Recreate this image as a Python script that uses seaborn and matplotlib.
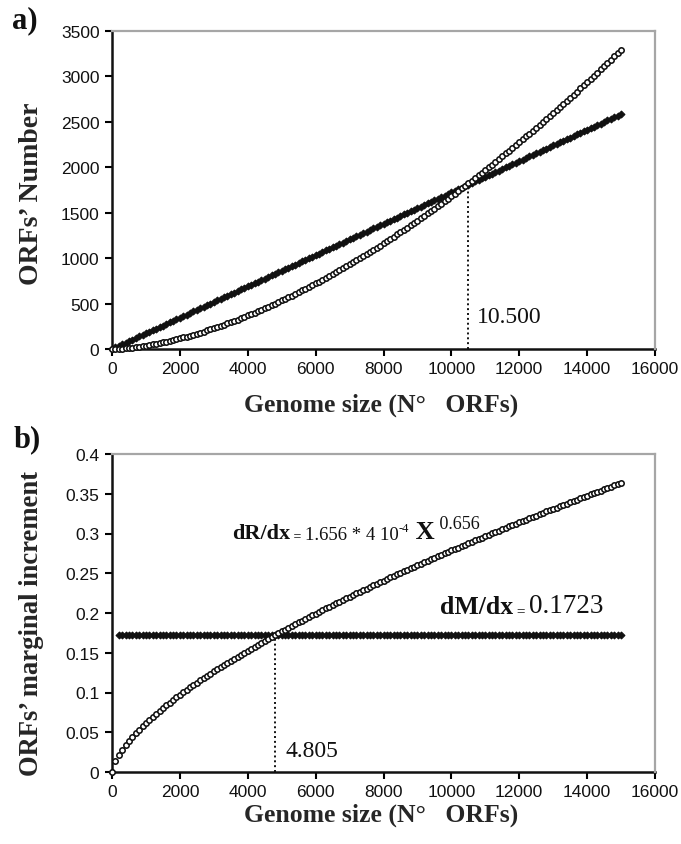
import numpy as np
import pandas as pd
import matplotlib
matplotlib.use("Agg")
import matplotlib.pyplot as plt
from matplotlib.ticker import FuncFormatter
import seaborn as sns

# ---------------- data ----------------
GENOME_SIZE = list(range(0, 15001, 100))

ORFS_R = [0, 1, 3, 5, 8, 12, 16, 21, 26, 31,
          37, 44, 50, 57, 65, 73, 81, 89, 98, 108,
          117, 127, 137, 148, 158, 169, 181, 192, 204, 217,
          229, 242, 255, 268, 282, 296, 310, 324, 339, 354,
          369, 384, 400, 416, 432, 449, 465, 482, 499, 516,
          534, 552, 570, 588, 607, 625, 644, 663, 683, 702,
          722, 742, 763, 783, 804, 825, 846, 867, 889, 910,
          932, 954, 977, 999, 1022, 1045, 1068, 1092, 1115, 1139,
          1163, 1187, 1212, 1236, 1261, 1286, 1311, 1336, 1362, 1388,
          1414, 1440, 1466, 1492, 1519, 1546, 1573, 1600, 1627, 1655,
          1683, 1711, 1739, 1767, 1796, 1825, 1853, 1882, 1912, 1941,
          1971, 2000, 2030, 2061, 2091, 2121, 2152, 2182, 2214, 2245,
          2276, 2307, 2339, 2371, 2403, 2435, 2467, 2500, 2533, 2566,
          2598, 2632, 2665, 2698, 2733, 2766, 2800, 2834, 2869, 2903,
          2938, 2972, 3008, 3043, 3078, 3114, 3149, 3185, 3221, 3257, 3293]

ORFS_M = [0, 17, 34, 52, 69, 86, 103, 121, 138, 155,
          172, 190, 207, 224, 241, 258, 276, 293, 310, 327,
          345, 362, 379, 396, 414, 431, 448, 465, 482, 500,
          517, 534, 551, 569, 586, 603, 620, 638, 655, 672,
          689, 706, 724, 741, 758, 775, 793, 810, 827, 844,
          862, 879, 896, 913, 930, 948, 965, 982, 999, 1017,
          1034, 1051, 1068, 1086, 1103, 1120, 1137, 1154, 1172, 1189,
          1206, 1223, 1241, 1258, 1275, 1292, 1310, 1327, 1344, 1361,
          1378, 1396, 1413, 1430, 1447, 1465, 1482, 1499, 1516, 1534,
          1551, 1568, 1585, 1602, 1620, 1637, 1654, 1671, 1689, 1706,
          1723, 1740, 1757, 1775, 1792, 1809, 1826, 1844, 1861, 1878,
          1895, 1912, 1930, 1947, 1964, 1981, 1999, 2016, 2033, 2050,
          2068, 2085, 2102, 2119, 2137, 2154, 2171, 2188, 2205, 2223,
          2240, 2257, 2274, 2292, 2309, 2326, 2343, 2361, 2378, 2395,
          2412, 2429, 2447, 2464, 2481, 2498, 2516, 2533, 2550, 2567, 2585]

DRDX = [0.0, .0136, .0214, .0279, .0337, .0391, .0440, .0487, .0532, .0574,
        .0615, .0655, .0694, .0731, .0767, .0803, .0838, .0872, .0905, .0938,
        .0970, .1001, .1032, .1063, .1093, .1122, .1152, .1181, .1209, .1237,
        .1265, .1293, .1320, .1347, .1373, .1400, .1426, .1452, .1477, .1503,
        .1528, .1553, .1578, .1602, .1626, .1651, .1675, .1698, .1722, .1745,
        .1769, .1792, .1815, .1838, .1860, .1883, .1905, .1927, .1950, .1972,
        .1993, .2015, .2037, .2058, .2080, .2101, .2122, .2143, .2164, .2185,
        .2205, .2226, .2247, .2267, .2287, .2308, .2328, .2348, .2368, .2388,
        .2407, .2427, .2447, .2466, .2486, .2505, .2524, .2544, .2563, .2582,
        .2601, .2620, .2639, .2657, .2676, .2695, .2713, .2732, .2750, .2769,
        .2787, .2805, .2823, .2841, .2860, .2878, .2895, .2913, .2931, .2949,
        .2967, .2984, .3002, .3020, .3037, .3054, .3072, .3089, .3107, .3124,
        .3141, .3158, .3175, .3192, .3209, .3226, .3243, .3260, .3277, .3294,
        .3310, .3327, .3344, .3360, .3377, .3393, .3410, .3426, .3443, .3459,
        .3475, .3491, .3508, .3524, .3540, .3556, .3572, .3588, .3604, .3620, .3636]

DMDX_X = [0] + list(range(200, 15001, 100))
DMDX = [0.0] + [0.1723] * 149

CROSS_A = (10500, 1835)
CROSS_B = (4805, 0.1723)

XTICKS = list(range(0, 16001, 2000))
YTICKS_A = list(range(0, 3501, 500))
YTICKS_B = [0, 0.05, 0.1, 0.15, 0.2, 0.25, 0.3, 0.35, 0.4]

# ---------------- style ----------------
sns.set_style("ticks")
plt.rcParams['font.family'] = ['Liberation Sans', 'DejaVu Sans']
SERIF = ['Liberation Serif', 'DejaVu Serif']
INK = '#111111'

W, H = 681, 845
fig = plt.figure(figsize=(W / 100, H / 100), dpi=100)
fig.patch.set_facecolor('white')

def px_axes(left, top, right, bottom):
    return fig.add_axes([left / W, 1 - bottom / H, (right - left) / W, (bottom - top) / H])

ax1 = px_axes(112, 32, 655, 350)
ax2 = px_axes(112, 455, 655, 773)

dfa_r = pd.DataFrame({'x': GENOME_SIZE, 'y': ORFS_R})
dfa_m = pd.DataFrame({'x': GENOME_SIZE, 'y': ORFS_M})
dfb_r = pd.DataFrame({'x': GENOME_SIZE, 'y': DRDX})
dfb_m = pd.DataFrame({'x': DMDX_X, 'y': DMDX})

for ax, dm, dr in ((ax1, dfa_m, dfa_r), (ax2, dfb_m, dfb_r)):
    sns.scatterplot(data=dm, x='x', y='y', marker='D', s=12, color=INK,
                    edgecolor=INK, linewidth=0.8, ax=ax, zorder=3)
    sns.scatterplot(data=dr, x='x', y='y', marker='o', s=15, color='white',
                    edgecolor=INK, linewidth=1.15, ax=ax, zorder=4)
    for c in ax.collections:
        c.set_clip_on(False)

ax1.set_xlim(0, 16000)
ax1.set_ylim(0, 3500)
ax2.set_xlim(0, 16000)
ax2.set_ylim(0, 0.4)

for ax, yt in ((ax1, YTICKS_A), (ax2, YTICKS_B)):
    ax.set_xticks(XTICKS)
    ax.set_yticks(yt)
    ax.yaxis.set_major_formatter(FuncFormatter(lambda v, p: f"{v:g}"))
    ax.xaxis.set_major_formatter(FuncFormatter(lambda v, p: f"{v:g}"))
    ax.tick_params(direction='out', length=5, width=1.5, color='black',
                   labelsize=12.5, pad=4, labelcolor=INK)
    for side in ('left', 'bottom'):
        ax.spines[side].set_color(INK)
        ax.spines[side].set_linewidth(1.8)
        ax.spines[side].set_zorder(2)
    for side in ('top', 'right'):
        ax.spines[side].set_visible(True)
        ax.spines[side].set_color('#a6a6a6')
        ax.spines[side].set_linewidth(1.6)
    ax.set_xlabel('Genome size (N°   ORFs)', family=SERIF, fontweight='bold', fontsize=18.5)
    ax.grid(False)

ax1.set_ylabel('ORFs’ Number', family=SERIF, fontweight='bold', fontsize=20)
ax2.set_ylabel('ORFs’ marginal increment', family=SERIF, fontweight='bold', fontsize=19.2)
for ax, x_lab_y, y_lab_y in ((ax1, (350 - 405) / 318, 0.49), (ax2, (773 - 815) / 318, 0.47)):
    ax.xaxis.set_label_coords(0.495, x_lab_y)
    ax.xaxis.label.set_va('center')
    ax.yaxis.set_label_coords((32 - 112) / 543, y_lab_y)
    ax.yaxis.label.set_va('center')

# dotted guide lines
ax1.plot([CROSS_A[0], CROSS_A[0]], [0, CROSS_A[1]], linestyle=(0, (1, 1.5)),
         color=INK, lw=1.4, zorder=2)
ax2.plot([CROSS_B[0], CROSS_B[0]], [0, CROSS_B[1]], linestyle=(0, (1, 1.5)),
         color=INK, lw=1.4, zorder=2)

ax1.text(10750, 360, '10.500', family=SERIF, fontsize=17, ha='left', va='center', color=INK)
ax2.text(5100, 0.027, '4.805', family=SERIF, fontsize=17, ha='left', va='center', color=INK)

# equation dR/dx
t1 = ax2.text(3540, 0.2945, 'dR/dx', family=SERIF, fontweight='bold', fontsize=16,
              ha='left', va='baseline', color=INK)
t2a = ax2.annotate(' = ', xy=(1, 0), xycoords=t1, family=SERIF, fontsize=10,
                   ha='left', va='bottom', color=INK)
t2 = ax2.annotate('1.656 * 4 10', xy=(1, 0), xycoords=(t2a, t1), family=SERIF, fontsize=13.5,
                  ha='left', va='bottom', color=INK)
t3 = ax2.annotate('-4', xy=(1, 0.55), xycoords=t2, family=SERIF, fontsize=9,
                  ha='left', va='bottom', color=INK)
t4 = ax2.annotate(' X', xy=(1, 0), xycoords=(t3, t1), family=SERIF, fontweight='bold',
                  fontsize=19, ha='left', va='bottom', color=INK)
t5 = ax2.annotate(' 0.656', xy=(1, 0.46), xycoords=t4, family=SERIF, fontsize=13,
                  ha='left', va='bottom', color=INK)

# equation dM/dx
m1 = ax2.text(9660, 0.2005, 'dM/dx', family=SERIF, fontweight='bold', fontsize=18.5,
              ha='left', va='baseline', color=INK)
m2 = ax2.annotate(' = ', xy=(1, 0), xycoords=m1, family=SERIF, fontsize=11,
                  ha='left', va='bottom', color=INK)
ax2.annotate('0.1723', xy=(1, 0), xycoords=(m2, m1), family=SERIF, fontsize=19.5,
             ha='left', va='bottom', color=INK)

fig.text(25 / W, 1 - 21 / H, 'a)', family=SERIF, fontweight='bold', fontsize=22,
         ha='center', va='center', color=INK)
fig.text(27 / W, 1 - 440 / H, 'b)', family=SERIF, fontweight='bold', fontsize=22,
         ha='center', va='center', color=INK)

fig.savefig('out.png', dpi=100, facecolor='white')
